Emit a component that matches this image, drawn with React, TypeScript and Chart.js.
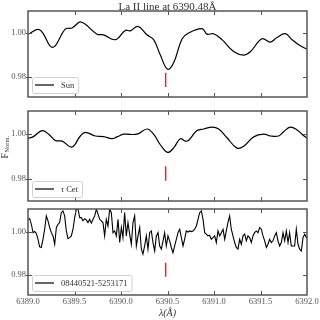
import React, { useEffect, useRef } from 'react';
import { Chart, registerables } from 'chart.js';

Chart.register(...registerables);

const FONT = "'Liberation Serif', 'DejaVu Serif', serif";
const TEXT = '#333';
const AXIS = '#555';

const titleText = 'La II line at 6390.48Å';
const yLabelMain = 'F';
const yLabelSub = 'Norm.';
const xLabelText = 'λ(Å)';

const xTickValues = [6389.0, 6389.5, 6390.0, 6390.5, 6391.0, 6391.5, 6392.0];
const xTickLabels = ['6389.0', '6389.5', '6390.0', '6390.5', '6391.0', '6391.5', '6392.0'];
const yTickValues = [0.98, 1.0];
const yTickLabels = ['0.98', '1.00'];

const lineWave = 6390.48;
const markSun = [0.982, 0.9755];
const markTau = [0.9855, 0.979];
const markStar = [0.9855, 0.979];

const sunWave = [6389.0, 6389.125, 6389.265, 6389.401, 6389.473, 6389.57, 6389.742, 6389.813, 6389.939, 6390.046, 6390.1, 6390.183, 6390.279, 6390.351, 6390.423, 6390.501, 6390.566, 6390.656, 6390.727, 6390.871, 6390.925, 6390.996, 6391.086, 6391.211, 6391.318, 6391.39, 6391.516, 6391.606, 6391.677, 6391.767, 6391.839, 6391.928, 6392.0];
const sunFlux = [0.9995, 1.0015, 0.9935, 1.0018, 1.0023, 1.005, 0.9995, 0.9992, 0.997, 1.0012, 1.001, 1.003, 0.9992, 0.997, 0.99, 0.9836, 0.9865, 0.9973, 1.0, 1.002, 0.9995, 0.9997, 0.997, 0.9916, 0.99, 0.9915, 0.9974, 0.9959, 0.998, 0.9997, 0.997, 0.9942, 0.9927];

const tauWave = [6389.0, 6389.054, 6389.151, 6389.222, 6389.294, 6389.366, 6389.473, 6389.563, 6389.617, 6389.724, 6389.814, 6389.903, 6389.957, 6390.029, 6390.172, 6390.28, 6390.351, 6390.423, 6390.502, 6390.566, 6390.638, 6390.692, 6390.728, 6390.817, 6390.889, 6390.979, 6391.05, 6391.14, 6391.247, 6391.319, 6391.427, 6391.534, 6391.606, 6391.695, 6391.749, 6391.821, 6391.893, 6391.946, 6392.0];
const tauFlux = [0.9979, 0.9985, 1.0013, 0.9997, 0.9969, 0.9966, 0.994, 0.9989, 1.0005, 0.9989, 0.9986, 0.9977, 0.9985, 0.9997, 0.9997, 1.002, 0.9997, 0.995, 0.9916, 0.9936, 0.9977, 0.9966, 0.997, 1.0013, 1.002, 1.0028, 1.002, 0.9981, 0.9935, 0.9943, 0.9985, 0.9997, 0.9989, 0.9989, 1.0008, 1.0028, 1.0016, 0.9997, 0.9979];

const starWave = [
  6389.0, 6389.018, 6389.036, 6389.054, 6389.072, 6389.09, 6389.108, 6389.125, 6389.143, 6389.161,
  6389.179, 6389.197, 6389.215, 6389.233, 6389.251, 6389.269, 6389.287, 6389.305, 6389.323, 6389.34,
  6389.358, 6389.376, 6389.394, 6389.412, 6389.43, 6389.448, 6389.466, 6389.484, 6389.502, 6389.52,
  6389.538, 6389.556, 6389.573, 6389.591, 6389.609, 6389.627, 6389.645, 6389.663, 6389.681, 6389.699,
  6389.717, 6389.735, 6389.753, 6389.771, 6389.788, 6389.806, 6389.824, 6389.842, 6389.86, 6389.878,
  6389.896, 6389.914, 6389.932, 6389.95, 6389.968, 6389.986, 6390.004, 6390.021, 6390.039, 6390.057,
  6390.075, 6390.093, 6390.111, 6390.129, 6390.147, 6390.165, 6390.183, 6390.201, 6390.219, 6390.236,
  6390.254, 6390.272, 6390.29, 6390.308, 6390.326, 6390.344, 6390.362, 6390.38, 6390.398, 6390.416,
  6390.434, 6390.452, 6390.469, 6390.487, 6390.505, 6390.523, 6390.541, 6390.559, 6390.577, 6390.595,
  6390.613, 6390.631, 6390.649, 6390.667, 6390.684, 6390.702, 6390.72, 6390.738, 6390.756, 6390.774,
  6390.792, 6390.81, 6390.828, 6390.846, 6390.864, 6390.882, 6390.9, 6390.917, 6390.935, 6390.953,
  6390.971, 6390.989, 6391.007, 6391.025, 6391.043, 6391.061, 6391.079, 6391.097, 6391.115, 6391.132,
  6391.15, 6391.168, 6391.186, 6391.204, 6391.222, 6391.24, 6391.258, 6391.276, 6391.294, 6391.312,
  6391.33, 6391.348, 6391.365, 6391.383, 6391.401, 6391.419, 6391.437, 6391.455, 6391.473, 6391.491,
  6391.509, 6391.527, 6391.545, 6391.563, 6391.58, 6391.598, 6391.616, 6391.634, 6391.652, 6391.67,
  6391.688, 6391.706, 6391.724, 6391.742, 6391.76, 6391.778, 6391.796, 6391.813, 6391.831, 6391.849,
  6391.867, 6391.885, 6391.903, 6391.921, 6391.939, 6391.957, 6391.975, 6391.993, 6392.0,
];
const starFlux = [
  1.0057, 1.006, 1.0034, 0.9995, 1.0, 0.9991, 0.9964, 0.9929, 0.9926, 0.9964,
  1.0011, 1.0073, 1.005, 1.0019, 0.9995, 0.998, 0.9941, 1.0019, 1.0034, 1.0042,
  1.0088, 1.0096, 1.0073, 1.0003, 0.9967, 0.9972, 0.998, 1.0011, 1.0065, 1.0104,
  1.0104, 1.0065, 1.0065, 1.005, 1.006, 1.0054, 1.0042, 1.0057, 1.0039, 1.0057,
  1.0073, 1.0104, 1.0081, 1.0057, 1.005, 1.0042, 0.998, 1.0057, 1.0026, 1.0104,
  1.0088, 0.9995, 1.0003, 0.998, 1.0057, 0.9949, 1.0019, 0.9972, 1.0088, 0.998,
  1.0042, 0.9988, 0.9941, 1.0042, 1.0073, 0.9933, 0.998, 1.0019, 0.9918, 0.9895,
  0.9933, 0.998, 0.9918, 0.9995, 1.0003, 0.9949, 0.991, 0.998, 0.9995, 0.9933,
  0.9918, 0.9957, 0.9995, 0.9933, 0.998, 0.9957, 0.9926, 0.9902, 0.9933, 0.9964,
  0.9995, 1.0011, 0.9972, 0.9933, 0.9964, 1.0003, 0.9998, 1.0003, 1.0, 1.0003,
  1.0011, 1.0026, 1.0057, 1.0088, 1.0096, 1.0057, 0.9995, 0.9988, 0.998, 0.9983,
  0.9964, 0.9972, 0.998, 0.9949, 1.0003, 0.998, 0.9995, 1.0011, 0.9964, 1.0003,
  1.0042, 1.0073, 1.0011, 0.998, 0.9949, 0.9926, 0.9918, 0.9964, 0.9941, 0.998,
  0.9988, 0.9957, 0.998, 0.9972, 0.9949, 0.998, 0.9995, 1.0003, 0.9995, 1.0019,
  1.0011, 0.998, 0.9957, 0.9926, 0.9941, 0.9964, 0.9949, 0.9957, 0.998, 0.9995,
  0.9957, 0.9933, 0.9949, 0.9995, 0.9957, 1.0003, 0.9949, 0.9995, 0.9933, 0.9933,
  0.9933, 1.0011, 0.9941, 0.9918, 0.991, 0.9972, 0.9988, 0.9972, 0.9977,
];

type Panel = {
  height: number;
  padTop: number;
  padBottom: number;
  yMin: number;
  yMax: number;
  wave: number[];
  flux: number[];
  tension: number;
  lineWidth: number;
  mark: number[];
  legend: { text: string; italic?: boolean }[];
  showX: boolean;
  extra?: (ctx: CanvasRenderingContext2D, a: any) => void;
};

function legendBox(ctx: CanvasRenderingContext2D, a: any, parts: { text: string; italic?: boolean }[]) {
  const size = 8.5;
  let tw = 0;
  parts.forEach((p) => {
    ctx.font = `${p.italic ? 'italic ' : ''}${size}px ${FONT}`;
    tw += ctx.measureText(p.text).width;
  });
  const x0 = a.left + 4;
  const h = 16;
  const y0 = a.bottom - 4 - h;
  const w = 29 + tw + 4;
  ctx.save();
  ctx.beginPath();
  (ctx as any).roundRect(x0 + 0.5, y0 + 0.5, w, h, 2);
  ctx.fillStyle = 'rgba(255,255,255,0.85)';
  ctx.fill();
  ctx.strokeStyle = '#d0d0d0';
  ctx.lineWidth = 1;
  ctx.stroke();
  ctx.beginPath();
  ctx.moveTo(x0 + 3, y0 + 8);
  ctx.lineTo(x0 + 22, y0 + 8);
  ctx.strokeStyle = '#000';
  ctx.lineWidth = 1.2;
  ctx.stroke();
  ctx.fillStyle = TEXT;
  ctx.textBaseline = 'middle';
  ctx.textAlign = 'left';
  let tx = x0 + 29;
  parts.forEach((p) => {
    ctx.font = `${p.italic ? 'italic ' : ''}${size}px ${FONT}`;
    ctx.fillText(p.text, tx, y0 + 8.5);
    tx += ctx.measureText(p.text).width;
  });
  ctx.restore();
}

function makeConfig(p: Panel): any {
  const decor = {
    id: 'decor',
    afterDatasetsDraw(chart: any) {
      const { ctx, chartArea: a, scales } = chart;
      const x = scales.x;
      const y = scales.y;
      ctx.save();
      ctx.strokeStyle = AXIS;
      ctx.lineWidth = 1;
      const tl = 4;
      xTickValues.forEach((v) => {
        const px = Math.round(x.getPixelForValue(v)) + 0.5;
        if (px <= a.left + 1 || px >= a.right - 1) return;
        ctx.beginPath();
        ctx.moveTo(px, a.top);
        ctx.lineTo(px, a.top + tl);
        ctx.moveTo(px, a.bottom);
        ctx.lineTo(px, a.bottom - tl);
        ctx.stroke();
      });
      yTickValues.forEach((v) => {
        const py = Math.round(y.getPixelForValue(v)) + 0.5;
        ctx.beginPath();
        ctx.moveTo(a.left - 2, py);
        ctx.lineTo(a.left + tl, py);
        ctx.moveTo(a.right, py);
        ctx.lineTo(a.right - tl, py);
        ctx.stroke();
      });
      ctx.lineWidth = 1.5;
      ctx.strokeRect(a.left, a.top, a.right - a.left, a.bottom - a.top);
      ctx.restore();
      legendBox(ctx, a, p.legend);
      if (p.extra) p.extra(ctx, a);
    },
  };

  return {
    type: 'line',
    data: {
      datasets: [
        {
          data: p.wave.map((w, i) => ({ x: w, y: p.flux[i] })),
          borderColor: '#000',
          borderWidth: p.lineWidth,
          pointRadius: 0,
          tension: p.tension,
          fill: false,
        },
        {
          data: p.mark.map((m) => ({ x: lineWave, y: m })),
          borderColor: '#e8282e',
          borderWidth: 1.5,
          pointRadius: 0,
          fill: false,
        },
      ],
    },
    options: {
      animation: false,
      responsive: false,
      events: [],
      layout: { padding: { left: 0, right: 13, top: p.padTop, bottom: p.padBottom } },
      plugins: { legend: { display: false }, tooltip: { enabled: false }, title: { display: false } },
      scales: {
        x: {
          type: 'linear',
          min: 6389,
          max: 6392,
          display: p.showX,
          afterBuildTicks: (s: any) => {
            s.ticks = xTickValues.map((v) => ({ value: v }));
          },
          ticks: {
            callback: (_v: any, i: number) => xTickLabels[i],
            font: { family: FONT, size: 8.5 },
            color: AXIS,
            padding: 2,
            maxRotation: 0,
            autoSkip: false,
          },
          grid: { display: false, drawTicks: false },
          border: { display: false },
          afterFit: p.showX
            ? (s: any) => {
                s.height = 25;
                s.paddingLeft = 0;
                s.paddingRight = 0;
              }
            : undefined,
        },
        y: {
          type: 'linear',
          min: p.yMin,
          max: p.yMax,
          afterBuildTicks: (s: any) => {
            s.ticks = yTickValues.map((v) => ({ value: v }));
          },
          ticks: {
            callback: (_v: any, i: number) => yTickLabels[i],
            font: { family: FONT, size: 8.5 },
            color: AXIS,
            padding: 2,
          },
          grid: { display: false, drawTicks: false },
          border: { display: false },
          afterFit: (s: any) => {
            s.width = 28;
            s.paddingTop = 0;
            s.paddingBottom = 0;
          },
        },
      },
    },
    plugins: [decor],
  };
}

export default function App() {
  const r1 = useRef<HTMLCanvasElement>(null);
  const r2 = useRef<HTMLCanvasElement>(null);
  const r3 = useRef<HTMLCanvasElement>(null);

  useEffect(() => {
    const panels: Panel[] = [
      {
        height: 104,
        padTop: 11,
        padBottom: 7,
        yMin: 0.971,
        yMax: 1.01,
        wave: sunWave,
        flux: sunFlux,
        tension: 0.4,
        lineWidth: 1.2,
        mark: markSun,
        legend: [{ text: 'Sun' }],
        showX: false,
        extra: (ctx, a) => {
          ctx.save();
          ctx.fillStyle = TEXT;
          ctx.font = `11px ${FONT}`;
          ctx.textAlign = 'center';
          ctx.textBaseline = 'alphabetic';
          ctx.fillText(titleText, (a.left + a.right) / 2, 9.5);
          ctx.restore();
        },
      },
      {
        height: 100,
        padTop: 7,
        padBottom: 3,
        yMin: 0.97,
        yMax: 1.01,
        wave: tauWave,
        flux: tauFlux,
        tension: 0.4,
        lineWidth: 1.2,
        mark: markTau,
        legend: [{ text: 'τ', italic: true }, { text: ' Cet' }],
        showX: false,
        extra: (ctx) => {
          ctx.save();
          ctx.fillStyle = TEXT;
          ctx.translate(7.5, 54.5);
          ctx.rotate(-Math.PI / 2);
          ctx.textAlign = 'left';
          ctx.textBaseline = 'alphabetic';
          ctx.font = `9.5px ${FONT}`;
          ctx.fillText(yLabelMain, 0, 0);
          const w = ctx.measureText(yLabelMain).width;
          ctx.font = `6.5px ${FONT}`;
          ctx.fillText(yLabelSub, w + 0.5, 1.5);
          ctx.restore();
        },
      },
      {
        height: 116,
        padTop: 5,
        padBottom: 0,
        yMin: 0.9705,
        yMax: 1.0105,
        wave: starWave,
        flux: starFlux,
        tension: 0,
        lineWidth: 1.1,
        mark: markStar,
        legend: [{ text: '08440521-5253171' }],
        showX: true,
        extra: (ctx, a) => {
          ctx.save();
          ctx.fillStyle = TEXT;
          ctx.font = `italic 10px ${FONT}`;
          ctx.textAlign = 'center';
          ctx.textBaseline = 'alphabetic';
          ctx.fillText(xLabelText, (a.left + a.right) / 2, 112);
          ctx.restore();
        },
      },
    ];
    const refs = [r1, r2, r3];
    const charts = panels.map((p, i) => new Chart(refs[i].current as HTMLCanvasElement, makeConfig(p)));
    return () => charts.forEach((c) => c.destroy());
  }, []);

  return (
    <div style={{ position: 'absolute', left: 0, top: 0, width: 320, height: 320, background: '#fff', overflow: 'hidden' }}>
      <canvas ref={r1} width={320} height={104} style={{ position: 'absolute', left: 0, top: 0 }} />
      <canvas ref={r2} width={320} height={100} style={{ position: 'absolute', left: 0, top: 104 }} />
      <canvas ref={r3} width={320} height={116} style={{ position: 'absolute', left: 0, top: 204 }} />
    </div>
  );
}
